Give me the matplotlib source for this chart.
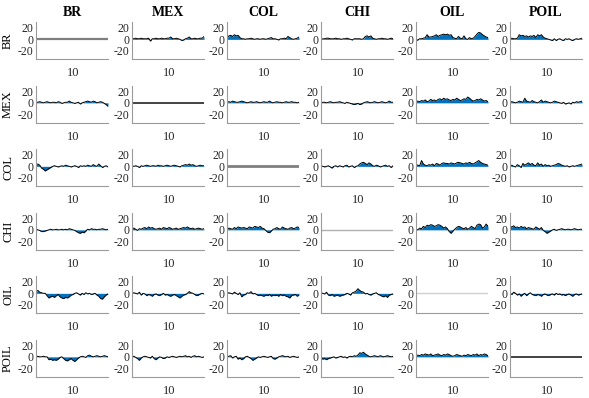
import matplotlib
matplotlib.use('Agg')
import matplotlib.pyplot as plt
import numpy as np

plt.rcParams['font.family'] = ['Liberation Serif', 'DejaVu Serif']
plt.rcParams['axes.unicode_minus'] = False

# ── Datos ────────────────────────────────────────────────────
names = ['BR', 'MEX', 'COL', 'CHI', 'OIL', 'POIL']
x = np.arange(40) * 0.5

BR_MEX = [1, 1, 2, 1, 1, 2, 1, 1, 1, 2, -3, 1, 1, 2, 1, 1, 2, 1, 1, 2,
          2, 4, 1, 1, 2, 1, 0, -2, -1, 1, 2, 4, 1, 1, 2, 1, 1, 2, 2, 5]
BR_COL = [2, 6, 7, 5, 8, 6, 7, 3, 1, 1, 0, 1, 1, 2, 1, 0, 1, 1, 0, 1,
          1, 0, 1, 2, 3, 1, 1, 0, -1, 1, 1, 2, 1, 5, 3, 1, 0, 1, 2, 4]
BR_CHI = [-1, 1, 1, 2, 2, 1, 1, 1, 2, 1, 1, 0, 1, 1, 2, 1, 0, -1, 1, 1,
          1, 1, 0, 1, 5, 6, 4, 6, 2, 1, 0, 1, 1, 2, 1, 1, 0, 1, 2, 1]
BR_OIL = [-2, -1, 1, 1, 2, 3, 8, 4, 4, 5, 6, 8, 5, 7, 8, 9, 8, 9, 7, 8,
          3, 2, 1, 5, 2, 1, 6, 1, 0, 3, 1, 2, 5, 9, 12, 11, 8, 6, 4, 3]
BR_POIL = [1, 2, 1, 1, 2, 8, 6, 7, 5, 6, 4, 6, 5, 7, 3, 8, 6, 8, 4, 2,
           1, 0, -1, -2, 1, -2, 0, 1, -1, -2, 1, 0, 1, -1, -2, 0, 1, 0, 1, 2]

MEX_BR = [1, 1, 2, 1, 0, 1, 2, 1, 0, 1, 1, 0, 2, 1, -1, 0, 1, 1, 3, 1,
          0, -1, 0, 1, -2, 0, 1, 2, 3, 2, 1, 3, 2, 0, 1, 2, 1, -1, -3, -6]
MEX_COL = [1, 2, 1, 3, 2, 1, 1, 2, 3, 2, 1, 0, 1, 2, 1, 1, 2, 1, 0, 1,
           2, 1, 1, 3, 1, 0, 1, 2, 1, 1, 0, 1, 2, 1, 1, 2, 1, 1, 0, 1]
MEX_CHI = [0, 1, 1, 0, 1, 2, 1, 0, 1, 1, 2, 1, 0, -1, 1, 0, -1, -2, -3, -2,
           -1, -3, -2, 0, 1, 2, 1, 0, 1, 2, 1, 0, 1, 2, 1, 0, 1, 3, 1, 1]
MEX_OIL = [2, 3, 2, 4, 3, 5, 2, 3, 6, 4, 5, 3, 6, 7, 5, 8, 6, 7, 5, 4,
           6, 5, 8, 6, 4, 5, 7, 6, 10, 8, 5, 3, 4, 6, 5, 7, 5, 3, 4, 2]
MEX_POIL = [1, 2, 1, 0, 1, 3, 2, 1, 8, 3, 2, 1, 4, 2, 1, 0, 2, 5, 1, 3,
            2, 1, 0, 1, 3, 2, 1, 0, -1, 1, -2, -1, 0, -2, 1, 0, 2, 1, 2, 3]

COL_BR = [3, 4, 2, -3, -5, -8, -6, -4, -2, 0, 1, 0, -1, 0, 1, 0, 2, 1, 0, -1,
          0, 1, 0, -2, 1, 0, 1, 0, 2, 1, 0, 3, 1, 0, 4, 1, -2, 0, 1, -1]
COL_MEX = [1, 0, 1, 0, -2, 1, 0, 1, 2, 1, 0, 1, 1, 0, 2, 1, 1, 0, 1, 2,
           1, 0, 1, 2, 1, 0, -1, 1, 2, 3, 2, 4, 2, 3, 1, 0, 1, 2, 1, 1]
COL_CHI = [1, 0, -1, 0, 1, -1, -3, 0, 1, -1, 1, 0, -1, 1, 2, -1, 0, 1, -2, 0,
           1, 4, 6, 7, 5, 3, 6, 4, 1, 0, 2, 1, -1, 0, 1, 2, 0, 1, -2, 1]
COL_OIL = [3, 2, 1, 10, 4, 2, 1, 3, 2, 4, 1, 5, 4, 2, 5, 6, 5, 5, 4, 6,
           5, 4, 6, 7, 6, 5, 4, 6, 5, 7, 5, 4, 6, 8, 10, 7, 5, 4, 3, 2]
COL_POIL = [1, 2, 0, -1, 3, 1, -2, 5, 2, 4, 6, 3, 5, 2, 1, 6, 2, 4, 0, 3,
            1, 2, 0, 1, 2, 3, 5, 4, 2, 1, 0, 1, -1, 0, 1, 0, 1, 2, 3, 4]

CHI_BR = [1, 0, -1, -3, -3, -2, -1, 0, 1, 0, 0, 1, 0, 0, 1, 0, 1, 0, 2, 1,
          0, -1, -3, -5, -6, -4, -5, -2, 1, 0, 2, 1, 1, 0, 1, 1, 2, 1, 0, 1]
CHI_MEX = [2, 3, 1, -1, 2, 1, 3, 4, 2, 5, 3, 4, 2, 1, 2, 3, 1, 4, 3, 2,
           4, 3, 1, 2, 3, 1, 2, 3, 4, 3, 5, 3, 2, 3, 1, 2, 3, 2, 1, 2]
CHI_COL = [1, 3, 2, 1, 4, 2, 5, 4, 3, 4, 3, 2, 5, 4, 3, 6, 5, 4, 6, 3,
           2, -1, -4, -5, -2, 1, 2, 4, 2, 1, 5, 3, 2, 1, 3, 4, 2, 3, 5, 4]
CHI_OIL = [1, 0, 3, 2, 6, 4, 8, 7, 9, 8, 6, 7, 9, 8, 6, 3, 5, 2, -3, -6,
           -2, 1, 4, 6, 5, 3, 2, 4, 1, 3, 6, 4, 2, 8, 10, 9, 3, 5, 10, 6]
CHI_POIL = [6, 5, 7, 4, 5, 3, 6, 4, 5, 2, 4, 3, 2, 1, 5, 3, 1, 4, -1, -3,
            -6, -4, -2, 0, 1, -1, 0, 1, 2, 1, 0, 1, 1, 0, 1, 2, 1, 0, 1, 1]

OIL_BR = [3, 5, 2, 1, 0, 0, -4, -8, -6, -5, -7, -4, -2, -6, -8, -9, -7, -8, -6, -3,
          -2, 0, 1, -1, -3, 0, -2, 1, -1, 0, -2, -1, 0, -3, -5, -9, -10, -6, -3, -1]
OIL_MEX = [0, 1, 0, -1, 2, -3, 0, -1, -4, -2, -3, -5, -2, -1, -3, -4, -2, 0, -3, -2,
           -4, -5, -3, -2, -4, -6, -8, -5, -3, -2, 0, 3, 1, 0, -2, -4, -3, -1, 0, -1]
OIL_COL = [0, 1, 0, -1, 2, 0, -2, 1, -6, -3, -2, 1, 0, 3, -1, 0, -2, -4, -3, -4,
           -5, -3, -4, -2, -5, -3, -4, -3, -5, -2, -4, -3, -5, -6, -8, -4, -3, -2, -5, -3]
OIL_CHI = [1, 0, -1, 2, -3, -4, -2, -5, -4, -3, -5, -4, -3, -2, 0, -1, -3, 1, 2, 4,
           8, 5, 3, 2, -1, 0, -2, -3, -1, 0, 1, -2, -3, -5, -6, -4, -7, -3, -2, -1]
OIL_POIL = [1, -2, 2, 0, -3, -1, -5, -2, 0, -4, -1, 1, -2, -3, -4, -2, -3, -5, -2, -1,
            -3, -4, -2, -1, -3, 0, -2, -1, -3, -2, -4, -2, -1, -3, -5, -2, -1, -3, -2, -1]

POIL_BR = [0, 1, 0, 0, 1, 0, 0, -5, -4, -6, -5, -6, -4, -1, 0, -3, -6, -7, -5, -3,
           -6, -8, -5, -2, 0, 1, 0, -1, 2, 3, 1, 0, 1, 2, 1, 0, 1, 2, 1, 0]
POIL_MEX = [0, 1, -1, -3, -6, -2, 0, 1, 0, -1, -2, 1, -3, -5, -2, 0, -1, -3, -2, 0,
            -1, 0, 1, 0, -1, 0, 1, 0, 1, 2, 0, 1, -1, 1, 2, 0, 1, 0, -1, 0]
POIL_COL = [0, 1, 2, -2, 0, 1, -4, -2, -5, -3, 0, 1, -1, -3, -6, -4, -2, 0, -1, 0,
            1, 0, -1, 0, 1, -3, -4, -2, 0, 1, 2, 1, 0, 1, -1, 0, 1, 0, -1, 0]
POIL_CHI = [-2, -4, -3, -5, -3, -2, -1, 0, -2, -1, 0, 1, -1, 0, -2, 0, 1, 0, 2, 1,
            3, 7, 6, 8, 5, 3, 1, 0, 1, 2, 1, 0, 2, 1, 0, 1, 2, 1, 0, 1]
POIL_OIL = [2, 3, 2, 4, 3, 5, 4, 3, 5, 2, 3, 4, 5, 3, 2, 4, 3, 5, 4, 2,
            1, 2, 4, 3, 2, 1, 3, 2, 4, 3, 2, 4, 3, 5, 2, 4, 3, 5, 4, 2]

grid = [
    [None, BR_MEX, BR_COL, BR_CHI, BR_OIL, BR_POIL],
    [MEX_BR, None, MEX_COL, MEX_CHI, MEX_OIL, MEX_POIL],
    [COL_BR, COL_MEX, None, COL_CHI, COL_OIL, COL_POIL],
    [CHI_BR, CHI_MEX, CHI_COL, None, CHI_OIL, CHI_POIL],
    [OIL_BR, OIL_MEX, OIL_COL, OIL_CHI, None, OIL_POIL],
    [POIL_BR, POIL_MEX, POIL_COL, POIL_CHI, POIL_OIL, None],
]

# color de la línea en cero de la diagonal
diag_colors = ['#7f7f7f', '#222222', '#7f7f7f', '#b0b0b0', '#d0d0d0', '#222222']
diag_widths = [1.6, 1.2, 2.0, 1.0, 1.0, 1.2]

# ── Figura ───────────────────────────────────────────────────
W, H = 589, 398
fig = plt.figure(figsize=(W / 100, H / 100), dpi=100)
fig.patch.set_facecolor('white')

col_left = [36, 132, 227, 321, 416, 510]
row_top = [22, 85.5, 149, 212.5, 276, 339.5]
aw, ah = 72, 37

for i in range(6):
    for j in range(6):
        ax = fig.add_axes([col_left[j] / W, 1 - (row_top[i] + ah) / H, aw / W, ah / H])
        y = grid[i][j]
        if y is None:
            ax.axhline(0, color=diag_colors[i], lw=diag_widths[i])
        else:
            ax.fill_between(x, 0, y, color='#0072BD', lw=0)
            ax.plot(x, y, color='black', lw=0.7)
        ax.set_xlim(x[0], x[-1])
        ax.set_ylim(-34, 30)
        ax.set_yticks([-20, 0, 20])
        ax.set_xticks([10])
        ax.tick_params(length=0, colors='#262626')
        ax.tick_params(axis='y', labelsize=8.5, pad=2)
        ax.tick_params(axis='x', labelsize=9, pad=6)
        for s in ['top', 'right']:
            ax.spines[s].set_visible(False)
        for s in ['left', 'bottom']:
            ax.spines[s].set_color('#9a9a9a')
            ax.spines[s].set_linewidth(0.8)

        if i == 0:
            fig.text((col_left[j] + aw / 2) / W, 1 - 12 / H, names[j],
                     ha='center', va='center', fontsize=10, fontweight='bold')
        if j == 0:
            fig.text(8 / W, 1 - (row_top[i] + ah / 2) / H, names[i],
                     ha='center', va='center', rotation=90, fontsize=9)

fig.savefig('out.png', dpi=100)
